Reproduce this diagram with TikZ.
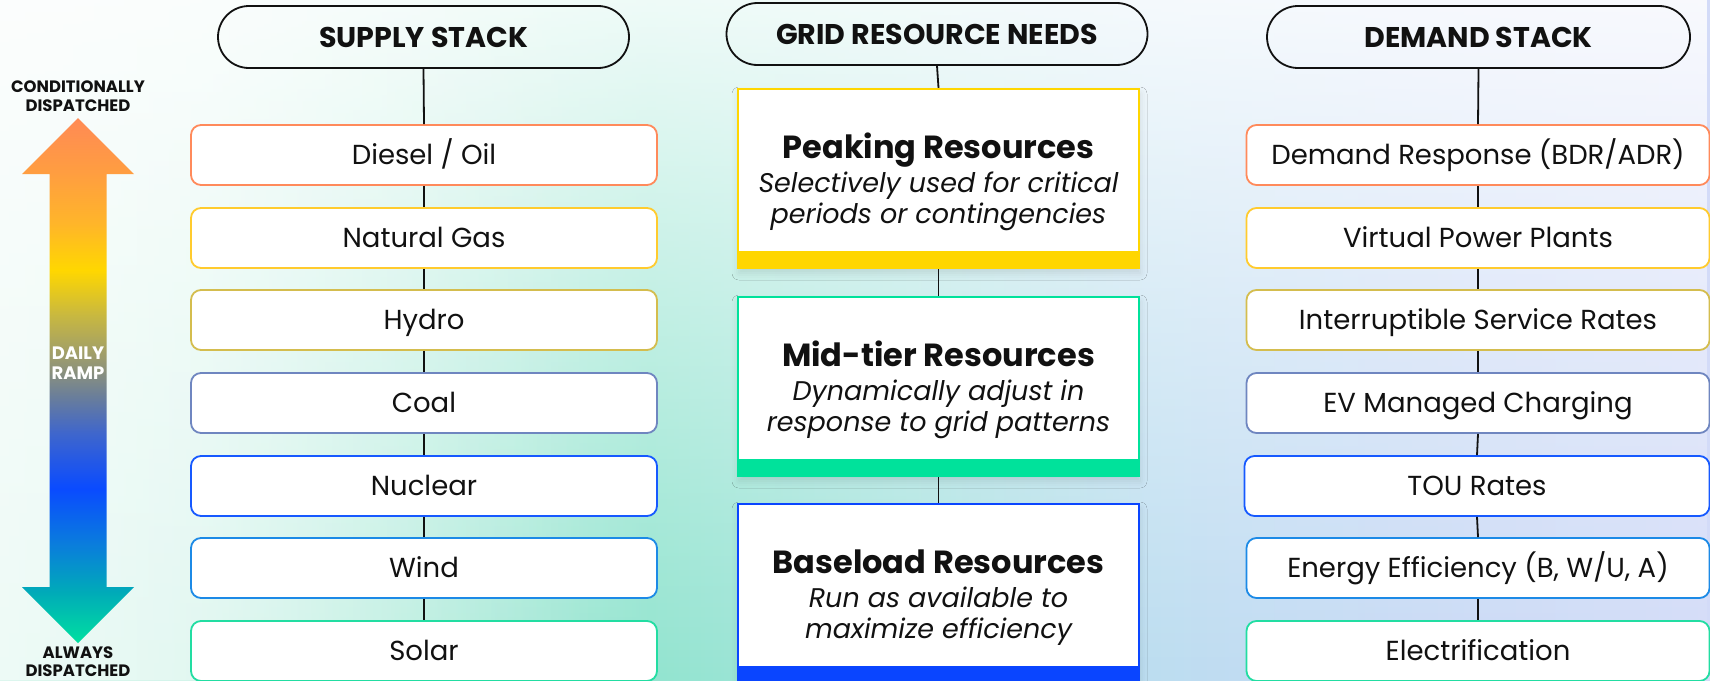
\documentclass[tikz,border=0pt]{standalone}
\usepackage{fontspec}
\setmainfont{Poppins}
\usetikzlibrary{fadings,shadows.blur,calc}

\definecolor{ink}{HTML}{111111}
\definecolor{cDiesel}{HTML}{FF8A5B}
\definecolor{cGas}{HTML}{FFCB2E}
\definecolor{cHydro}{HTML}{D4BD4E}
\definecolor{cCoal}{HTML}{6F86C0}
\definecolor{cNuclear}{HTML}{1659FF}
\definecolor{cWind}{HTML}{1C8AE6}
\definecolor{cSolar}{HTML}{22DDA2}
\definecolor{cPeak}{HTML}{FFD600}
\definecolor{cMid}{HTML}{00E29B}
\definecolor{cBase}{HTML}{0A45FF}

% arrow ramp colours
\definecolor{ra}{HTML}{00E0A0}
\definecolor{rb}{HTML}{00ABB8}
\definecolor{rc}{HTML}{0A7DDC}
\definecolor{rd}{HTML}{0A4BFF}
\definecolor{re}{HTML}{3F66CC}
\definecolor{rf}{HTML}{6A7E9A}
\definecolor{rg}{HTML}{9A9A70}
\definecolor{rh}{HTML}{C8B840}
\definecolor{ri}{HTML}{FFD700}
\definecolor{rj}{HTML}{FFB52A}
\definecolor{rk}{HTML}{FF9E40}
\definecolor{rl}{HTML}{FF8A55}
\pgfdeclareverticalshading{rampshade}{100bp}{color(0bp)=(ra); color(25bp)=(ra); color(29.8bp)=(rb); color(34.4bp)=(rc); color(39.7bp)=(rd); color(45bp)=(re); color(48.5bp)=(rf); color(52bp)=(rg); color(56.2bp)=(rh); color(60.5bp)=(ri); color(65bp)=(rj); color(69.7bp)=(rk); color(75bp)=(rl); color(100bp)=(rl)}

% background colours
\definecolor{ba}{HTML}{DDF6EE}
\definecolor{bb}{HTML}{D2F4EA}
\definecolor{bc}{HTML}{ADEBDA}
\definecolor{bd}{HTML}{92E4CF}
\definecolor{be}{HTML}{A8E3DF}
\definecolor{bf}{HTML}{BCDDF0}
\definecolor{bg}{HTML}{C7DAF5}
\definecolor{bh}{HTML}{D3DBF8}
\pgfdeclarehorizontalshading{bgshade}{100bp}{color(0bp)=(ba); color(25bp)=(ba); color(30.8bp)=(bb); color(38.2bp)=(bc); color(44bp)=(bd); color(51.3bp)=(be); color(58.6bp)=(bf); color(65.9bp)=(bg); color(75bp)=(bh); color(100bp)=(bh)}

\pgfdeclareverticalshading{topfadeshade}{100bp}{color(0bp)=(pgftransparent!100); color(25bp)=(pgftransparent!100); color(50bp)=(pgftransparent!60); color(75bp)=(pgftransparent!15); color(100bp)=(pgftransparent!15)}
\pgfdeclarefading{topfade}{\pgfuseshading{topfadeshade}}
\pgfdeclarehorizontalshading{leftfadeshade}{100bp}{color(0bp)=(pgftransparent!50); color(25bp)=(pgftransparent!50); color(33.8bp)=(pgftransparent!72); color(42.5bp)=(pgftransparent!100); color(100bp)=(pgftransparent!100)}
\pgfdeclarefading{leftfade}{\pgfuseshading{leftfadeshade}}

\tikzset{
  pill/.style={draw=ink, line width=1.8pt, rounded corners=31pt, minimum width=411pt, minimum height=62pt, inner sep=0pt, text=ink, font=\fontsize{28.5}{34}\selectfont\bfseries},
  stackbox/.style={draw=#1, fill=white, line width=1.8pt, rounded corners=10pt, minimum width=466pt, minimum height=60pt, inner sep=0pt, text=ink, text height=19pt, text depth=0pt, font=\fontsize{27.5}{33}\selectfont},
  gridbox/.style={draw=#1, fill=white, line width=2.2pt, minimum width=401pt, minimum height=179pt, inner sep=0pt, blur shadow={shadow xshift=1pt, shadow yshift=-5pt, shadow blur radius=7pt, shadow opacity=11}},
  gtitle/.style={anchor=base, inner sep=0pt, text=ink, font=\fontsize{32}{38}\selectfont\bfseries},
  gsub/.style={anchor=base, inner sep=0pt, text=ink, font=\fontsize{27}{32}\selectfont\itshape},
  lbl/.style={align=center, inner sep=0pt, text=ink, font=\fontsize{16.5}{18.5}\selectfont\bfseries},
  link/.style={draw=ink, line width=1.8pt},
}

\begin{document}
\begin{tikzpicture}[x=1pt,y=-1pt]
\useasboundingbox (0,0) rectangle (1710,680);
\clip (0,0) rectangle (1710,680);

% background
\shade[shading=bgshade] (0,0) rectangle (1710,680);
\fill[white, path fading=topfade] (0,0) rectangle (1710,680);
\fill[white, path fading=leftfade] (0,0) rectangle (1710,680);

% header pills
\node[pill] (sp) at (423.5,37) {SUPPLY STACK};
\node[pill, minimum width=421pt] (gp) at (937,34) {GRID RESOURCE NEEDS};
\node[pill, minimum width=423pt] (dp) at (1478.5,37) {DEMAND STACK};

% supply stack
\node[stackbox=cDiesel]  (s1) at (424,155) {Diesel / Oil};
\node[stackbox=cGas]     (s2) at (424,238) {Natural Gas};
\node[stackbox=cHydro]   (s3) at (424,320) {Hydro};
\node[stackbox=cCoal]    (s4) at (424,403) {Coal};
\node[stackbox=cNuclear] (s5) at (424,486) {Nuclear};
\node[stackbox=cWind]    (s6) at (424,568) {Wind};
\node[stackbox=cSolar]   (s7) at (424,651) {Solar};

% demand stack
\node[stackbox=cDiesel, minimum width=463pt]  (d1) at (1478,155) {Demand Response (BDR/ADR)};
\node[stackbox=cGas, minimum width=463pt]     (d2) at (1478,238) {Virtual Power Plants};
\node[stackbox=cHydro, minimum width=463pt]   (d3) at (1478,320) {Interruptible Service Rates};
\node[stackbox=cCoal, minimum width=463pt]    (d4) at (1478,403) {EV Managed Charging};
\node[stackbox=cNuclear, minimum width=465pt] (d5) at (1477,486) {TOU Rates};
\node[stackbox=cWind, minimum width=463pt]    (d6) at (1478,568) {Energy Efficiency (B, W/U, A)};
\node[stackbox=cSolar, minimum width=463pt]   (d7) at (1478,651) {Electrification};

\foreach \a/\b in {sp/s1,s1/s2,s2/s3,s3/s4,s4/s5,s5/s6,s6/s7,dp/d1,d1/d2,d2/d3,d3/d4,d4/d5,d5/d6,d6/d7}
  \draw[link] (\a.south) -- (\b.north);

% grid resource needs
\node[gridbox=cPeak] (peak) at (938.5,178.5) {};
\fill[cPeak] ($(peak.south west)+(0,-18)$) rectangle (peak.south east);
\node[gridbox=cMid] (mid) at (938.5,386.5) {};
\fill[cMid] ($(mid.south west)+(0,-18)$) rectangle (mid.south east);
\node[gridbox=cBase] (base) at (938.5,593.5) {};
\fill[cBase] ($(base.south west)+(0,-18)$) rectangle (base.south east);

\draw[link] (gp.south) -- (peak.north);
\draw[link] (peak.south) -- (mid.north);
\draw[link] (mid.south) -- (base.north);

\node[gtitle] (peakT) at (938.5,158) {Peaking Resources};
\node[gsub] (peakA) at (938.5,192) {Selectively used for critical};
\node[gsub] (peakB) at (938.5,223) {periods or contingencies};
\node[gtitle] (midT) at (938.5,366) {Mid-tier Resources};
\node[gsub] (midA) at (938.5,400) {Dynamically adjust in};
\node[gsub] (midB) at (938.5,431) {response to grid patterns};
\node[gtitle] (baseT) at (938.5,573) {Baseload Resources};
\node[gsub] (baseA) at (938.5,607) {Run as available to};
\node[gsub] (baseB) at (938.5,638) {maximize efficiency};

% daily ramp arrow
\shade[shading=rampshade] (78,118) -- (134,174) -- (106.5,174) -- (106.5,587) -- (134,587) -- (78,643) -- (22,587) -- (49.5,587) -- (49.5,174) -- (22,174) -- cycle;
\node[lbl] (cond) at (78,96) {CONDITIONALLY\\DISPATCHED};
\node[lbl, text=white, font=\fontsize{18}{20}\selectfont\bfseries] (ramp) at (78,363) {DAILY\\RAMP};
\node[lbl] (always) at (78,661.5) {ALWAYS\\DISPATCHED};
\end{tikzpicture}
\end{document}
